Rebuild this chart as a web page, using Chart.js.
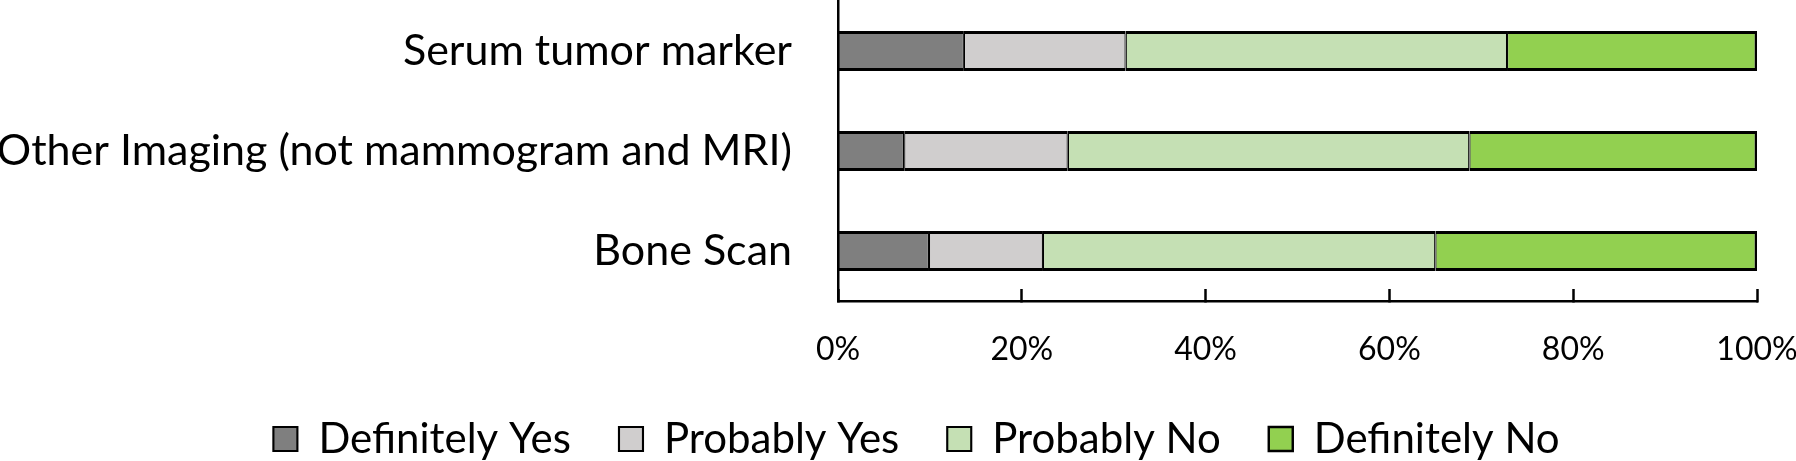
<!DOCTYPE html>
<html>
<head>
<meta charset="utf-8">
<script src="https://cdn.jsdelivr.net/npm/chart.js@4"></script>
<style>
  html, body { margin: 0; padding: 0; background: #fff; }
  #wrap { width: 1796px; height: 461px; position: relative; }
</style>
</head>
<body>
<div id="wrap"><canvas id="surveyChart"></canvas></div>
<script>
const categories = ['Serum tumor marker', 'Other Imaging (not mammogram and MRI)', 'Bone Scan'];
const seriesNames = ['Definitely Yes', 'Probably Yes', 'Probably No', 'Definitely No'];
const definitelyYes = [13.7, 7.2, 9.9];
const probablyYes = [17.6, 17.8, 12.4];
const probablyNo = [41.5, 43.7, 42.7];
const definitelyNo = [27.2, 31.3, 35.0];
const xTicks = [0, 20, 40, 60, 80, 100];

const colors = ['#7f7f7f', '#d0cece', '#c5e0b4', '#92d050'];
const values = [definitelyYes, probablyYes, probablyNo, definitelyNo];

const font = 'Lato';

const datasets = seriesNames.map((name, i) => ({
  label: name,
  data: values[i],
  backgroundColor: colors[i],
  borderColor: '#000',
  borderWidth: { top: 3, bottom: 3, left: 1.25, right: i === 3 ? 2.5 : 1.25 },
  borderSkipped: false,
  categoryPercentage: 0.8,
  barPercentage: 0.5,
}));

new Chart(document.getElementById('surveyChart'), {
  type: 'bar',
  data: { labels: categories, datasets },
  options: {
    indexAxis: 'y',
    responsive: true,
    maintainAspectRatio: false,
    animation: false,
    // left padding only nudges the legend row; y axis width makes up for it
    layout: { padding: { top: 1, right: 39, bottom: 0, left: 76 } },
    scales: {
      x: {
        stacked: true,
        min: 0,
        max: 100,
        afterBuildTicks: (s) => { s.ticks = xTicks.map((v) => ({ value: v })); },
        afterFit: (s) => {
          s.height = 69;
          s.paddingLeft = 0;
          s.paddingRight = 0;
          s._computeLabelArea = () => undefined;
        },
        ticks: {
          padding: 41,
          color: '#000',
          font: { family: font, size: 32 },
          callback: (v) => v + '%',
        },
        grid: {
          drawOnChartArea: false,
          drawTicks: true,
          tickLength: -12,
          tickColor: '#000',
          tickWidth: 2.5,
        },
        border: { display: true, color: '#000', width: 2.5 },
      },
      y: {
        stacked: true,
        afterFit: (s) => {
          s.width = 762;
          s.paddingTop = 0;
          s.paddingBottom = 0;
          // long label runs past the padded left edge
          s._computeLabelArea = () => undefined;
        },
        ticks: {
          padding: 46,
          color: '#000',
          font: { family: font, size: 43 },
        },
        grid: { display: false, drawTicks: false },
        border: { display: true, color: '#000', width: 2.5 },
      },
    },
    plugins: {
      legend: {
        position: 'bottom',
        maxHeight: 91,
        labels: {
          color: '#000',
          font: { family: font, size: 42 },
          boxWidth: 24,
          boxHeight: 24,
          padding: 48,
        },
      },
      tooltip: { enabled: false },
    },
  },
});
</script>
</body>
</html>
